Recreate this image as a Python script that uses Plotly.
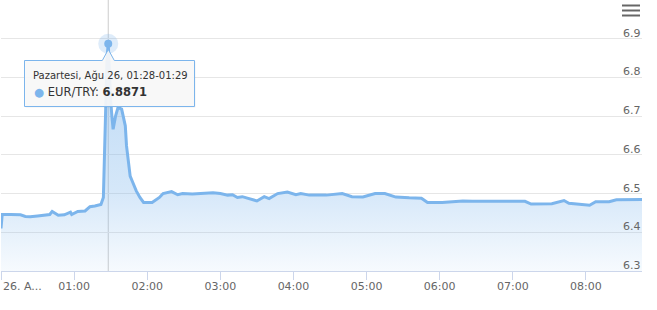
import plotly.graph_objects as go

DATE = "2019-08-26"
times = ["00:00", "00:01", "00:08", "00:16", "00:20", "00:24", "00:30", "00:34", "00:40", "00:42",
         "00:47", "00:52", "00:57", "00:58", "01:03", "01:09", "01:13", "01:17", "01:22", "01:24",
         "01:25", "01:26", "01:27", "01:28", "01:29", "01:30", "01:31", "01:32", "01:34", "01:36",
         "01:39", "01:42", "01:43", "01:46", "01:48", "01:51", "01:54", "01:57", "02:04", "02:10",
         "02:13", "02:20", "02:25", "02:29", "02:37", "02:47", "02:54", "03:00", "03:06", "03:10",
         "03:14", "03:18", "03:24", "03:30", "03:36", "03:40", "03:47", "03:55", "04:02", "04:06",
         "04:13", "04:27", "04:40", "04:48", "04:57", "05:07", "05:15", "05:24", "05:35", "05:45",
         "05:50", "06:02", "06:19", "06:27", "06:47", "07:05", "07:10", "07:15", "07:32", "07:42",
         "07:46", "08:03", "08:08", "08:19", "08:25", "08:46"]
values = [6.410, 6.446, 6.446, 6.445, 6.441, 6.440, 6.442, 6.444, 6.446, 6.454,
          6.444, 6.445, 6.452, 6.446, 6.454, 6.455, 6.466, 6.468, 6.472, 6.490,
          6.620, 6.780, 6.850, 6.8871, 6.800, 6.740, 6.700, 6.666, 6.700, 6.722,
          6.718, 6.675, 6.623, 6.545, 6.530, 6.507, 6.490, 6.477, 6.477, 6.490,
          6.500, 6.505, 6.497, 6.500, 6.499, 6.501, 6.502, 6.500, 6.496, 6.497,
          6.490, 6.492, 6.487, 6.481, 6.492, 6.487, 6.500, 6.504, 6.497, 6.500,
          6.496, 6.496, 6.500, 6.492, 6.491, 6.500, 6.500, 6.491, 6.489, 6.488,
          6.477, 6.477, 6.481, 6.480, 6.480, 6.481, 6.480, 6.473, 6.474, 6.482,
          6.475, 6.470, 6.479, 6.479, 6.484, 6.485]
series_name = "EUR/TRY"
y_ticks = [6.3, 6.4, 6.5, 6.6, 6.7, 6.8, 6.9]
x_tick_times = ["01:00", "02:00", "03:00", "04:00", "05:00", "06:00", "07:00", "08:00"]
first_label = "26. A..."
tooltip_header = "Pazartesi, Ağu 26, 01:28-01:29"

x = [f"{DATE} {t}" for t in times]
COLOR = "#7cb5ec"
FONT = "DejaVu Sans"

W, H = 657, 310
L, R, T, B = 1, 642, 0, 271


def px(X):
    return (X - L) / (R - L)


def py(Y):
    return (B - Y) / (B - T)


imax = max(range(len(values)), key=lambda i: values[i])

fig = go.Figure()
fig.add_trace(go.Scatter(
    x=x, y=values, mode="lines", name=series_name,
    line=dict(color=COLOR, width=3),
    fill="tozeroy",
    fillgradient=dict(type="vertical", start=6.3, stop=7.0,
                      colorscale=[[0, "rgba(124,181,236,0.06)"],
                                  [0.3, "rgba(124,181,236,0.32)"],
                                  [1, "rgba(124,181,236,0.58)"]]),
))
# hover halo + point
fig.add_trace(go.Scatter(x=[x[imax]], y=[values[imax]], mode="markers",
                         marker=dict(size=20, color="rgba(124,181,236,0.25)"), cliponaxis=False))
fig.add_trace(go.Scatter(x=[x[imax]], y=[values[imax]], mode="markers",
                         marker=dict(size=8, color=COLOR), cliponaxis=False))

shapes = []
# crosshair
shapes.append(dict(type="line", xref="x", yref="paper", x0=x[imax], x1=x[imax], y0=0, y1=1,
                   line=dict(color="#cccccc", width=1), layer="below"))
# tooltip box with notch
bx0, bx1, by0, by1 = 24.5, 194.5, 60.5, 106.5
nx = 108.3
pts = [(bx0, by0), (nx - 6, by0), (nx, by0 - 11), (nx + 6, by0), (bx1, by0), (bx1, by1), (bx0, by1)]
shadow = "M " + " L ".join(f"{px(a + 1)},{py(b + 1)}" for a, b in pts) + " Z"
path = "M " + " L ".join(f"{px(a)},{py(b)}" for a, b in pts) + " Z"
shapes.append(dict(type="path", xref="paper", yref="paper", path=shadow,
                   fillcolor="rgba(0,0,0,0.06)", line=dict(width=0)))
shapes.append(dict(type="path", xref="paper", yref="paper", path=path,
                   fillcolor="rgba(249,249,249,0.92)", line=dict(color=COLOR, width=1)))
# menu icon
for yy in (5.5, 10.5, 15.5):
    shapes.append(dict(type="line", xref="paper", yref="paper", x0=px(622), x1=px(640),
                       y0=py(yy), y1=py(yy), line=dict(color="#666666", width=2)))

annotations = []
for v in y_ticks:
    annotations.append(dict(xref="paper", yref="y", x=1, y=v, xanchor="right", yanchor="bottom",
                            text=f"{v:.1f}", showarrow=False, borderpad=0, yshift=-2,
                            font=dict(family=FONT, size=11, color="#666666")))
annotations.append(dict(xref="paper", yref="paper", x=px(1.5), y=py(286), xanchor="left", yanchor="middle",
                        text=first_label, showarrow=False, borderpad=0,
                        font=dict(family=FONT, size=11, color="#666666")))
annotations.append(dict(xref="paper", yref="paper", x=px(31.5), y=py(75), xanchor="left", yanchor="middle",
                        text=tooltip_header, showarrow=False, borderpad=0,
                        font=dict(family=FONT, size=10, color="#333333")))
annotations.append(dict(xref="paper", yref="paper", x=px(32.5), y=py(91.5), xanchor="left", yanchor="middle",
                        text=f"<span style='color:{COLOR}'>●</span> {series_name}: <b>{values[imax]:.4f}</b>",
                        showarrow=False, borderpad=0,
                        font=dict(family=FONT, size=11.5, color="#333333")))

fig.update_layout(
    width=W, height=H,
    margin=dict(l=L, r=W - R, t=T, b=H - B),
    plot_bgcolor="white", paper_bgcolor="white",
    showlegend=False, hovermode=False,
    shapes=shapes, annotations=annotations,
    xaxis=dict(type="date", range=[x[0], f"{DATE} 08:46"],
               tickvals=[f"{DATE} 00:00"] + [f"{DATE} {t}" for t in x_tick_times],
               ticktext=[""] + x_tick_times,
               ticks="outside", ticklen=8, tickcolor="#ccd6eb", tickwidth=1,
               ticklabelstandoff=-3,
               showline=True, linecolor="#ccd6eb", linewidth=1, showgrid=False, zeroline=False,
               tickfont=dict(family=FONT, size=11, color="#666666")),
    yaxis=dict(range=[6.3, 7.0], tickvals=y_ticks, showticklabels=False, ticks="",
               showgrid=True, gridcolor="#e6e6e6", gridwidth=1, zeroline=False, showline=False),
)

fig.write_html("out.html")
